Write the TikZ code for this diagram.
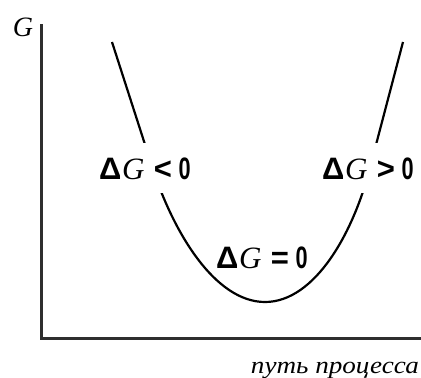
\documentclass[tikz,border=0pt]{standalone}
\usepackage{fontspec}
\setmainfont{Liberation Serif}
\setsansfont{Liberation Sans}
\newcommand{\dgl}[1]{{\sffamily\bfseries Δ}\hspace{0.02em}{\itshape G}\hspace{0.3em}{\sffamily\bfseries #1}\hspace{0.22em}{\sffamily\bfseries\scalebox{0.7}[1]{0}}}
\tikzset{
  axisline/.style={line width=3pt, draw=black!82, line cap=rect},
  curveline/.style={line width=2.2pt, draw=black},
  dglabel/.style={fill=white, inner xsep=1pt, inner ysep=14pt, anchor=base west, font=\fontsize{31}{31}\selectfont},
}
\begin{document}
\begin{tikzpicture}[x=1pt,y=-1pt]
\useasboundingbox (0,0) rectangle (421,378);
\draw[axisline] (41,25) -- (41,338) -- (421,338);
\node[anchor=base, font=\fontsize{28}{28}\selectfont\itshape, inner sep=0pt] (g) at (23,36) {G};
\draw[curveline] (112,42) -- (150,160) .. controls (172,232) and (215,302) .. (265,302)
  .. controls (315,302) and (355,232) .. (372,160) -- (403,42);
\node[dglabel] (lt) at (98,179) {\dgl{<}};
\node[dglabel] (gt) at (321,179) {\dgl{>}};
\node[dglabel, inner ysep=2pt] (eq) at (215,268) {\dgl{=}};
\node[anchor=base east, inner sep=0pt, font=\fontsize{24}{24}\selectfont\itshape] (path) at (419,373) {\scalebox{1.13}[1]{путь процесса}};
\end{tikzpicture}
\end{document}
